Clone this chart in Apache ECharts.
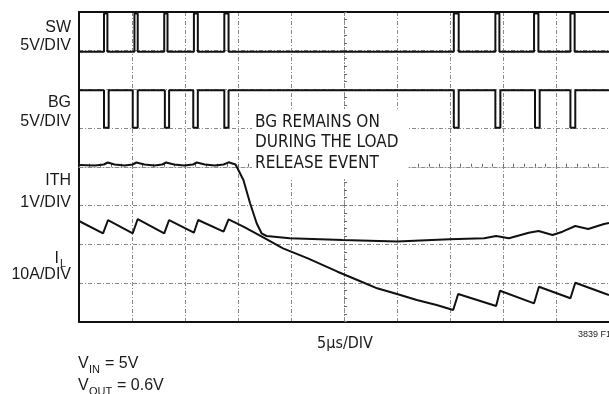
<!DOCTYPE html>
<html>
<head>
<meta charset="utf-8">
<script src="https://cdn.jsdelivr.net/npm/echarts@6/dist/echarts.min.js"></script>
<style>
  html, body { margin: 0; padding: 0; background: #fff; }
  #chart { width: 609px; height: 394px; }
</style>
</head>
<body>
<div id="chart"></div>
<script>
// Time base: 5 µs per division, 10 divisions across; vertical scale in divisions (8 total).
const timeSpanUs = 50;

// SW node: narrow high pulses (start/end times in µs), levels in divisions
const swPulseStart = [2.36, 5.23, 8.04, 10.84, 13.71, 35.36, 39.28, 42.93, 46.36];
const swPulseEnd   = [2.68, 5.54, 8.35, 11.21, 14.11, 35.82, 39.66, 43.34, 46.76];
const swLow = 6.97;
const swHigh = 7.96;

// Bottom gate: low pulses while the top switch is on
const bgPulseStart = [2.36, 5.07, 8.10, 10.78, 13.71, 35.36, 39.28, 43.02, 46.36];
const bgPulseEnd   = [2.80, 5.54, 8.50, 11.21, 14.11, 35.82, 39.75, 43.46, 46.82];
const bgHigh = 5.98;
const bgLow = 5.01;

// ITH control voltage trace: time (µs) and level (divisions)
const ithTime = [0, 1.50, 2.34, 2.71, 3.36, 4.30, 5.05, 5.42, 6.17, 7.10, 7.85, 8.22, 8.97, 9.91,
  10.75, 11.12, 11.87, 12.80, 13.64, 14.11, 14.77, 14.89, 15.51, 16.14, 16.76, 17.22, 17.69,
  19.88, 24.86, 30.00, 34.95, 38.22, 39.35, 40.56, 42.43, 43.36, 44.67, 45.61, 46.82, 48.04, 49.53, 50];
const ithLevel = [4.045, 4.032, 4.058, 4.110, 4.058, 4.032, 4.058, 4.110, 4.058, 4.032, 4.058, 4.110, 4.058, 4.032,
  4.058, 4.110, 4.058, 4.032, 4.058, 4.115, 4.058, 4.045, 3.657, 3.055, 2.538, 2.280, 2.210,
  2.150, 2.107, 2.068, 2.125, 2.150, 2.210, 2.150, 2.295, 2.339, 2.236, 2.321, 2.468, 2.391, 2.520, 2.546];

// Inductor current trace: time (µs) and level (divisions)
const ilTime = [0, 2.27, 2.74, 5.07, 5.54, 8.04, 8.50, 10.84, 11.24, 13.64, 14.11, 15.51, 17.38,
  19.25, 21.59, 24.39, 26.26, 28.13, 30.00, 31.87, 33.74, 35.30, 35.77, 39.35, 39.72, 42.93,
  43.39, 46.36, 46.82, 49.53, 50];
const ilLevel = [2.598, 2.280, 2.623, 2.280, 2.649, 2.280, 2.623, 2.295, 2.623, 2.321, 2.642, 2.450, 2.176,
  1.892, 1.633, 1.287, 1.073, 0.858, 0.711, 0.556, 0.426, 0.297, 0.711, 0.401, 0.796, 0.470,
  0.899, 0.600, 1.003, 0.729, 0.685];

// Channel labels on the left
const channelNames = ['SW', 'BG', 'ITH'];
const channelScales = ['5V/DIV', '5V/DIV', '1V/DIV', '10A/DIV'];
const timeScaleLabel = '5µs/DIV';
const noteLines = ['BG REMAINS ON', 'DURING THE LOAD', 'RELEASE EVENT'];
const figureId = '3839 F1';

function pulseTrace(starts, ends, base, level) {
  const pts = [[0, base]];
  for (let i = 0; i < starts.length; i++) {
    pts.push([starts[i], base], [starts[i], level], [ends[i], level], [ends[i], base]);
  }
  pts.push([timeSpanUs, base]);
  return pts;
}
function zip(xs, ys) { return xs.map((x, i) => [x, ys[i]]); }

const GRID = { left: 79, top: 12, width: 535, height: 309.5 };
const gridLine = { color: '#8a8a8a', width: 1, type: [4, 2, 1, 2] };
const LABEL_FONT = '16px "Liberation Sans", Arial, sans-serif';
const SUB_FONT = '11px "Liberation Sans", Arial, sans-serif';
const NARROW_FONT = '"DejaVu Sans Condensed", "Liberation Sans", sans-serif';
const ink = '#1a1a1a';

function txt(text, x, y, opts) {
  return {
    type: 'text', x: x, y: y, z: 10,
    style: Object.assign({ text: text, font: LABEL_FONT, fill: ink, align: 'right', verticalAlign: 'middle' }, opts || {})
  };
}

const traceStyle = { color: '#111', width: 2 };
function traceSeries(data) {
  return {
    type: 'line', data: data, xAxisIndex: 0, yAxisIndex: 0, showSymbol: false,
    symbol: 'none', lineStyle: traceStyle, z: 5, silent: true
  };
}

const chart = echarts.init(document.getElementById('chart'), null, { renderer: 'canvas' });
chart.setOption({
  animation: false,
  backgroundColor: '#fff',
  grid: [
    Object.assign({}, GRID),
    Object.assign({}, GRID)
  ],
  xAxis: [
    { type: 'value', gridIndex: 0, min: 0, max: timeSpanUs, interval: 5,
      axisLine: { show: true, onZero: false, lineStyle: { color: '#111', width: 2 } },
      axisTick: { show: false }, axisLabel: { show: false },
      splitLine: { show: true, lineStyle: gridLine } },
    { type: 'value', gridIndex: 0, position: 'top', min: 0, max: timeSpanUs, interval: 5,
      axisLine: { show: true, onZero: false, lineStyle: { color: '#111', width: 2 } },
      axisTick: { show: false }, axisLabel: { show: false }, splitLine: { show: false } },
    // centre graticule line with minor marks every 1 µs
    { type: 'value', gridIndex: 1, min: -25, max: 25, interval: 1,
      axisLine: { show: true, onZero: true, lineStyle: gridLine },
      axisTick: { show: true, inside: true, length: 3, lineStyle: { color: '#666', width: 1 } },
      axisLabel: { show: false }, splitLine: { show: false } }
  ],
  yAxis: [
    { type: 'value', gridIndex: 0, min: 0, max: 8, interval: 1,
      axisLine: { show: true, onZero: false, lineStyle: { color: '#111', width: 2 } },
      axisTick: { show: false }, axisLabel: { show: false },
      splitLine: { show: true, lineStyle: gridLine } },
    { type: 'value', gridIndex: 1, min: -4, max: 4, interval: 0.2,
      axisLine: { show: true, onZero: true, lineStyle: gridLine },
      axisTick: { show: true, inside: true, length: 3, lineStyle: { color: '#666', width: 1 } },
      axisLabel: { show: false }, splitLine: { show: false } }
  ],
  series: [
    traceSeries(pulseTrace(swPulseStart, swPulseEnd, swLow, swHigh)),
    traceSeries(pulseTrace(bgPulseStart, bgPulseEnd, bgHigh, bgLow)),
    traceSeries(zip(ithTime, ithLevel)),
    traceSeries(zip(ilTime, ilLevel))
  ],
  graphic: [
    // channel names and scales
    txt(channelNames[0], 71, 27.5),
    txt(channelScales[0], 71, 45.8),
    txt(channelNames[1], 71, 102.7),
    txt(channelScales[1], 71, 121.3),
    txt(channelNames[2], 71, 180.8),
    txt(channelScales[2], 71, 202.5),
    txt('I', 59, 259),
    txt('L', 60, 264, { align: 'left', font: SUB_FONT }),
    txt(channelScales[3], 71, 274.2),
    // annotation with a white backing over the graticule
    { type: 'rect', shape: { x: 252, y: 110, width: 156, height: 68 }, style: { fill: '#fff' }, z: 3 },
    txt(noteLines[0], 255, 122.5, { align: 'left', font: '17px ' + NARROW_FONT }),
    txt(noteLines[1], 255, 143, { align: 'left', font: '17px ' + NARROW_FONT }),
    txt(noteLines[2], 255, 163.5, { align: 'left', font: '17px ' + NARROW_FONT }),
    // horizontal scale and figure number
    txt(timeScaleLabel, 345, 344, { align: 'center', font: '16px ' + NARROW_FONT }),
    txt(figureId, 578, 334.5, { align: 'left', font: '9px "Liberation Sans", Arial, sans-serif' }),
    // operating conditions
    txt('V', 78, 364, { align: 'left' }),
    txt('IN', 89, 369.5, { align: 'left', font: SUB_FONT }),
    txt('= 5V', 105, 364, { align: 'left' }),
    txt('V', 78, 386, { align: 'left' }),
    txt('OUT', 89, 391.5, { align: 'left', font: SUB_FONT }),
    txt('= 0.6V', 117, 386, { align: 'left' })
  ]
});
</script>
</body>
</html>
